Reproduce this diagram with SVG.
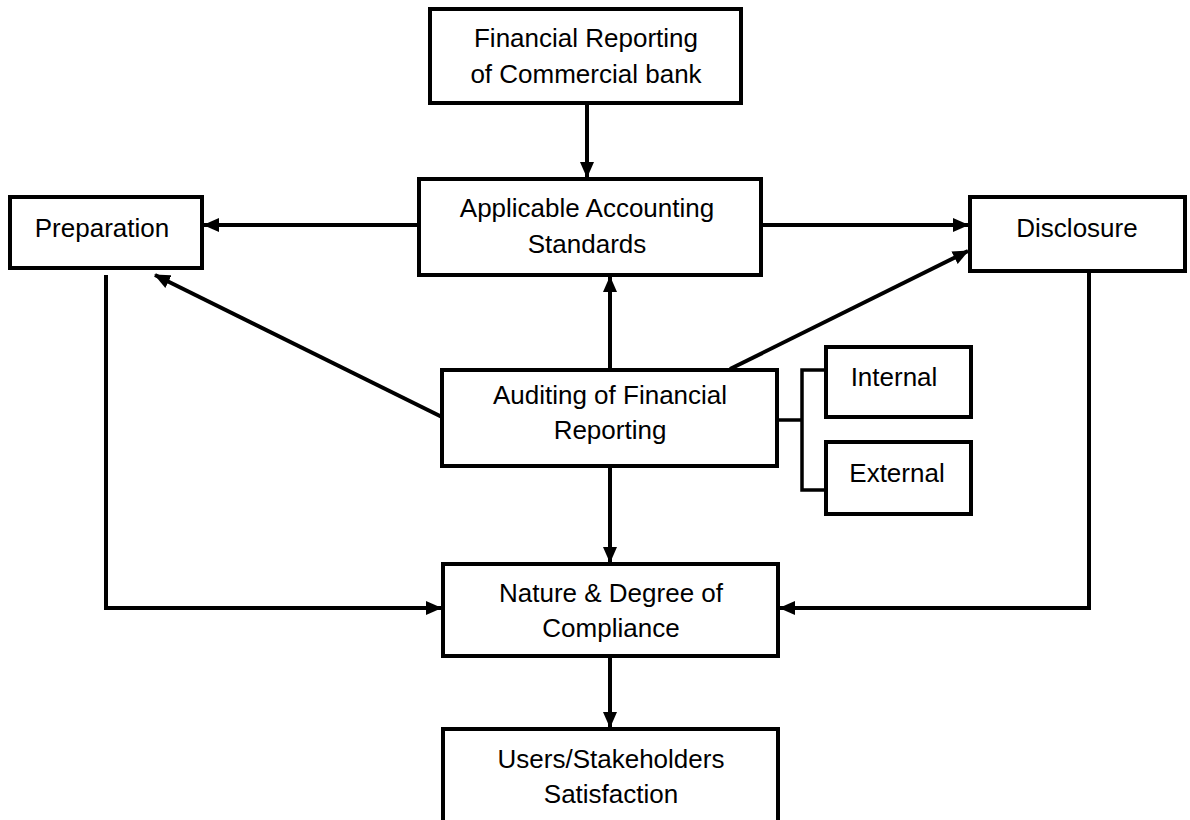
<svg xmlns="http://www.w3.org/2000/svg" width="1190" height="820" viewBox="0 0 1190 820">
<style>
.box{fill:#fff;stroke:#000;stroke-width:4}
.t{font-family:"Liberation Sans",Arial,sans-serif;font-size:26px;fill:#000;text-anchor:middle}
.c{fill:none;stroke:#000;stroke-width:4}
.b{fill:none;stroke:#000;stroke-width:3.5}
</style>
<defs>
<marker id="ah" markerUnits="userSpaceOnUse" markerWidth="16" markerHeight="14" viewBox="0 0 16 14" refX="15" refY="7" orient="auto">
<path d="M0,0 L16,7 L0,14 Z" fill="#000"/>
</marker>
</defs>
<rect width="1190" height="820" fill="#fff"/>
<g id="connectors">
<line class="c" x1="587" y1="105" x2="587" y2="177" marker-end="url(#ah)"/>
<line class="c" x1="417" y1="225" x2="204" y2="225" marker-end="url(#ah)"/>
<line class="c" x1="763" y1="225" x2="968" y2="225" marker-end="url(#ah)"/>
<line class="c" x1="610" y1="368" x2="610" y2="277" marker-end="url(#ah)"/>
<line class="c" x1="442" y1="417" x2="155" y2="275" marker-end="url(#ah)"/>
<line class="c" x1="730" y1="369" x2="968" y2="251" marker-end="url(#ah)"/>
<line class="c" x1="610" y1="468" x2="610" y2="562" marker-end="url(#ah)"/>
<polyline class="c" points="106,275 106,608 441,608" marker-end="url(#ah)"/>
<polyline class="c" points="1089,273 1089,608 780,608" marker-end="url(#ah)"/>
<line class="c" x1="610" y1="658" x2="610" y2="727" marker-end="url(#ah)"/>
<polyline class="b" points="778,420 802,420"/>
<polyline class="b" points="826,370 802,370 802,490 826,490"/>
</g>
<g id="n-financial">
<rect class="box" x="430" y="9" width="311" height="94"/>
<text class="t" x="586" y="47">Financial Reporting</text>
<text class="t" x="586" y="83">of Commercial bank</text>
</g>
<g id="n-standards">
<rect class="box" x="419" y="179" width="342" height="96"/>
<text class="t" x="587" y="217">Applicable Accounting</text>
<text class="t" x="587" y="253">Standards</text>
</g>
<g id="n-preparation">
<rect class="box" x="10" y="197" width="192" height="71"/>
<text class="t" x="102" y="237">Preparation</text>
</g>
<g id="n-disclosure">
<rect class="box" x="970" y="197" width="215" height="74"/>
<text class="t" x="1077" y="237">Disclosure</text>
</g>
<g id="n-auditing">
<rect class="box" x="442" y="370" width="335" height="96"/>
<text class="t" x="610" y="404">Auditing of Financial</text>
<text class="t" x="610" y="439">Reporting</text>
</g>
<g id="n-internal">
<rect class="box" x="826" y="347" width="145" height="70"/>
<text class="t" x="894" y="386">Internal</text>
</g>
<g id="n-external">
<rect class="box" x="826" y="442" width="145" height="72"/>
<text class="t" x="897" y="482">External</text>
</g>
<g id="n-compliance">
<rect class="box" x="443" y="564" width="335" height="92"/>
<text class="t" x="611" y="602">Nature &amp; Degree of</text>
<text class="t" x="611" y="637">Compliance</text>
</g>
<g id="n-users">
<rect class="box" x="443" y="729" width="335" height="100"/>
<text class="t" x="611" y="768">Users/Stakeholders</text>
<text class="t" x="611" y="803">Satisfaction</text>
</g>
</svg>
